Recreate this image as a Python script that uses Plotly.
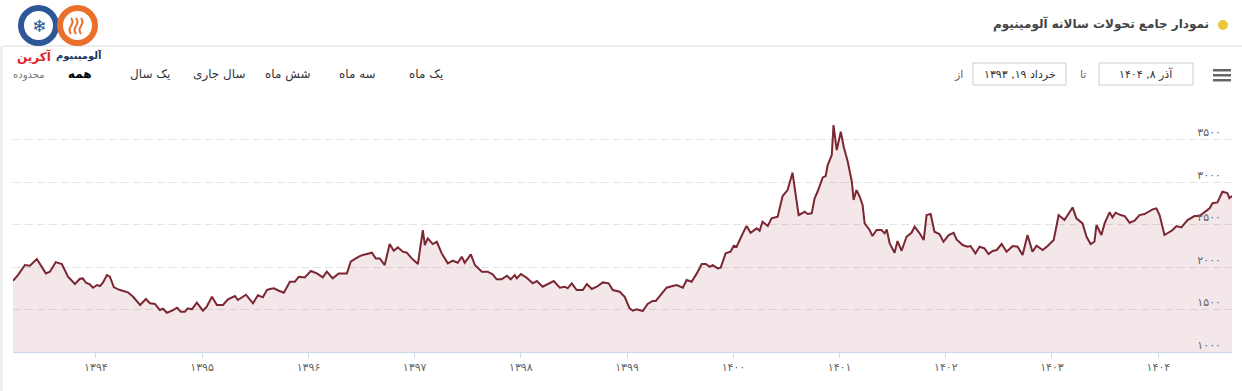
import plotly.graph_objects as go

# ---------------- data ----------------
dates = [
    "2014-06-09", "2014-06-26", "2014-07-20", "2014-08-06", "2014-08-30", "2014-09-09", "2014-09-30",
    "2014-10-14", "2014-11-03", "2014-11-24", "2014-12-15",
    "2015-01-08", "2015-01-25", "2015-02-04", "2015-02-15", "2015-02-28", "2015-03-11", "2015-03-25",
    "2015-04-04", "2015-04-14", "2015-04-28", "2015-05-08", "2015-05-22", "2015-06-12", "2015-07-09",
    "2015-07-27", "2015-08-20", "2015-09-09", "2015-09-23", "2015-10-10", "2015-10-27", "2015-11-07",
    "2015-11-20", "2015-12-08", "2015-12-25",
    "2016-01-07", "2016-01-21", "2016-01-31", "2016-02-14", "2016-03-02", "2016-03-23", "2016-04-05",
    "2016-04-23", "2016-05-10", "2016-05-31", "2016-06-17", "2016-07-11", "2016-07-21", "2016-08-18",
    "2016-09-11", "2016-09-28", "2016-10-15", "2016-10-29", "2016-11-08", "2016-11-22", "2016-12-09",
    "2016-12-26",
    "2017-01-16", "2017-02-02", "2017-02-16", "2017-03-08", "2017-03-29", "2017-04-19", "2017-05-09",
    "2017-05-23", "2017-06-12", "2017-07-03", "2017-07-31", "2017-08-13", "2017-08-31", "2017-09-13",
    "2017-09-24", "2017-10-11", "2017-10-25", "2017-11-07", "2017-11-21", "2017-12-08", "2017-12-25",
    "2018-01-08", "2018-01-22", "2018-02-08", "2018-02-22", "2018-03-11", "2018-04-01", "2018-04-18",
    "2018-04-25", "2018-05-05", "2018-05-22", "2018-06-05", "2018-06-22", "2018-07-13", "2018-07-30",
    "2018-08-16", "2018-08-30", "2018-09-09", "2018-09-30", "2018-10-14", "2018-11-07", "2018-11-27",
    "2018-12-14", "2018-12-28",
    "2019-01-14", "2019-02-01", "2019-02-14", "2019-02-28", "2019-03-07", "2019-03-21", "2019-04-10",
    "2019-05-01", "2019-05-15", "2019-06-04", "2019-06-25", "2019-07-12", "2019-08-02", "2019-08-19",
    "2019-08-29", "2019-09-12", "2019-09-29", "2019-10-20", "2019-11-03", "2019-11-20", "2019-12-07",
    "2019-12-28",
    "2020-01-17", "2020-01-31", "2020-02-24", "2020-03-12", "2020-03-29", "2020-04-09", "2020-04-22",
    "2020-05-13", "2020-05-30", "2020-06-16", "2020-06-27", "2020-07-14", "2020-08-03", "2020-08-24",
    "2020-09-07", "2020-09-28", "2020-10-11", "2020-10-28", "2020-11-15", "2020-12-02", "2020-12-16",
    "2020-12-29",
    "2021-01-09", "2021-01-26", "2021-02-05", "2021-02-22", "2021-03-11", "2021-03-22", "2021-04-01",
    "2021-04-22", "2021-05-05", "2021-05-19", "2021-06-09", "2021-06-19", "2021-06-29", "2021-07-17",
    "2021-07-30", "2021-08-20", "2021-09-06", "2021-09-23", "2021-10-10", "2021-10-31", "2021-11-21",
    "2021-12-01", "2021-12-15", "2021-12-25",
    "2022-01-04", "2022-01-22", "2022-02-01", "2022-02-08", "2022-02-22", "2022-02-28", "2022-03-11",
    "2022-03-25", "2022-04-04", "2022-04-18", "2022-05-02", "2022-05-08", "2022-05-18", "2022-05-29",
    "2022-06-08", "2022-06-15", "2022-07-02", "2022-07-12", "2022-07-26", "2022-08-12", "2022-08-23",
    "2022-08-30", "2022-09-09", "2022-09-26", "2022-10-06", "2022-10-20", "2022-11-06", "2022-11-23",
    "2022-12-04", "2022-12-21",
    "2023-01-04", "2023-01-14", "2023-01-28", "2023-02-10", "2023-02-27", "2023-03-13", "2023-03-31",
    "2023-04-17", "2023-04-27", "2023-05-18", "2023-06-04", "2023-06-14", "2023-07-01", "2023-07-15",
    "2023-08-01", "2023-08-15", "2023-08-29", "2023-09-12", "2023-09-29", "2023-10-16", "2023-11-06",
    "2023-11-23", "2023-12-10", "2023-12-27",
    "2024-01-13", "2024-01-27", "2024-02-17", "2024-03-05", "2024-03-26", "2024-04-12", "2024-05-02",
    "2024-05-30", "2024-06-12", "2024-07-03", "2024-07-17", "2024-07-31", "2024-08-13", "2024-08-20",
    "2024-09-06", "2024-09-17", "2024-10-04", "2024-10-14", "2024-10-25", "2024-11-11", "2024-11-25",
    "2024-12-12", "2024-12-29",
    "2025-01-15", "2025-02-01", "2025-02-15", "2025-03-01", "2025-03-14", "2025-03-25", "2025-04-11",
    "2025-04-28", "2025-05-09", "2025-05-22", "2025-06-08", "2025-06-29", "2025-07-23", "2025-08-09",
    "2025-08-26", "2025-09-13", "2025-09-23", "2025-10-10", "2025-10-27", "2025-11-13", "2025-11-20",
    "2025-11-29",
]

prices = [
    1838, 1905, 2023, 2015, 2094, 2043, 1925,
    1945, 2058, 2035, 1886,
    1800, 1862, 1866, 1815, 1796, 1756, 1788,
    1776, 1815, 1905, 1886, 1761, 1729, 1702,
    1650, 1553, 1623, 1573, 1565, 1494, 1509,
    1462, 1486, 1521,
    1474, 1474, 1513, 1502, 1580, 1486, 1533,
    1650, 1553, 1553, 1620, 1659, 1612, 1674,
    1573, 1667, 1643, 1729, 1741, 1749, 1721,
    1698,
    1827, 1827, 1886, 1878, 1953, 1925, 1878,
    1945, 1866, 1925, 1925, 2062, 2101, 2129,
    2141, 2152, 2168, 2101, 2101, 2023, 2270,
    2191, 2231, 2180, 2168, 2101, 2035, 2435,
    2258, 2337, 2270, 2297, 2160, 2043, 2074,
    2050, 2121, 2050, 2149, 2023, 1945, 1945,
    1914, 1855,
    1855, 1898, 1855, 1905, 1866, 1917, 1874,
    1808, 1835, 1768, 1808, 1835, 1756, 1768,
    1749, 1808, 1729, 1729, 1800, 1741, 1768,
    1819,
    1808, 1729, 1709, 1650, 1513, 1486, 1502,
    1482, 1565, 1600, 1600, 1670, 1756, 1776,
    1788, 1756, 1847, 1827, 1925, 2035, 2035,
    2003,
    2023, 1984, 1992, 2160, 2180, 2250, 2239,
    2396, 2482, 2403, 2455, 2427, 2532, 2482,
    2572, 2591, 2835, 2905, 3109, 2611, 2650,
    2623, 2631, 2807,
    2885, 3054, 3070, 3199, 3317, 3670, 3376,
    3591, 3415, 3238, 3003, 2788, 2905, 2827,
    2729, 2513, 2435, 2364, 2435, 2435, 2396,
    2443, 2278, 2168, 2305, 2191, 2356, 2403,
    2474, 2396,
    2317, 2611, 2623, 2415, 2388, 2297, 2376,
    2403, 2325, 2258, 2239, 2247, 2160, 2239,
    2219, 2152, 2188, 2200, 2270, 2180, 2247,
    2239, 2141, 2376,
    2180, 2250, 2200, 2247, 2317, 2611, 2552,
    2701, 2572, 2513, 2356, 2270, 2297, 2494,
    2376, 2513, 2643, 2584, 2639, 2611, 2599,
    2521, 2544,
    2611, 2623, 2650, 2678, 2690, 2611, 2376,
    2415, 2435, 2482, 2466, 2552, 2599, 2599,
    2640, 2690, 2750, 2760, 2885, 2870, 2810,
    2835,
]

year_ticks = ["2015-03-21", "2016-03-20", "2017-03-21", "2018-03-21", "2019-03-21", "2020-03-20",
              "2021-03-21", "2022-03-21", "2023-03-21", "2024-03-20", "2025-03-21"]
year_labels = ["۱۳۹۴", "۱۳۹۵", "۱۳۹۶", "۱۳۹۷", "۱۳۹۸", "۱۳۹۹", "۱۴۰۰", "۱۴۰۱", "۱۴۰۲", "۱۴۰۳", "۱۴۰۴"]

y_ticks = [1000, 1500, 2000, 2500, 3000, 3500, 4000]
y_labels = ["۱۰۰۰", "۱۵۰۰", "۲۰۰۰", "۲۵۰۰", "۳۰۰۰", "۳۵۰۰", ""]

title_text = "نمودار جامع تحولات سالانه آلومینیوم"
range_label = "محدوده"
range_buttons = ["همه", "یک سال", "سال جاری", "شش ماه", "سه ماه", "یک ماه"]
from_label, to_label = "از", "تا"
from_date, to_date = "خرداد ۱۹, ۱۳۹۳", "آذر ۸, ۱۴۰۴"
brand_a, brand_b = "آلومینیوم", "آکرین"

# ---------------- layout helpers (pixel -> paper) ----------------
W, H = 1242, 391
PL, PR, PT, PB = 13, 1232, 97, 352


def px(x):
    return (x - PL) / (PR - PL)


def py(y):
    return (PB - y) / (PB - PT)


FONT = "DejaVu Sans"
LINE = "#7b2732"

fig = go.Figure()
fig.add_trace(go.Scatter(
    x=dates, y=prices, mode="lines",
    line=dict(color=LINE, width=2),
    fill="tozeroy", fillcolor="rgba(150,40,55,0.11)",
    hoverinfo="x+y", showlegend=False,
))

shapes = []
annotations = []

# card border / separator
shapes.append(dict(type="rect", xref="paper", yref="paper", x0=px(0), x1=px(3), y0=py(391), y1=py(46),
                   fillcolor="#eeeeee", line=dict(width=0), layer="below"))
shapes.append(dict(type="line", xref="paper", yref="paper", x0=px(3), x1=px(1242), y0=py(46), y1=py(46),
                   line=dict(color="#e6e6e6", width=1.5)))

# title + yellow dot
shapes.append(dict(type="circle", xref="paper", yref="paper", x0=px(1218), x1=px(1228), y0=py(30), y1=py(20),
                   fillcolor="#efc53a", line=dict(width=0)))
annotations.append(dict(text="<b>" + title_text + "</b>", xref="paper", yref="paper", x=px(1211), y=py(24),
                        xanchor="right", yanchor="middle", showarrow=False,
                        font=dict(family=FONT, size=12, color="#444444")))

# logo (approximation)
shapes.append(dict(type="circle", xref="paper", yref="paper", x0=px(21), x1=px(56), y0=py(43), y1=py(8),
                   line=dict(color="#2d5796", width=6)))
shapes.append(dict(type="circle", xref="paper", yref="paper", x0=px(60), x1=px(95), y0=py(43), y1=py(8),
                   line=dict(color="#e8702a", width=6)))
annotations.append(dict(text="❄", xref="paper", yref="paper", x=px(38.5), y=py(26), xanchor="center",
                        yanchor="middle", showarrow=False, font=dict(family=FONT, size=17, color="#2d5796")))
for i in range(3):
    x0 = 71 + 5 * i
    path = "M {a},{b} Q {c},{d} {e},{f} Q {g},{h} {k},{m}".format(
        a=px(x0), b=py(34), c=px(x0 - 3), d=py(30), e=px(x0), f=py(26),
        g=px(x0 + 3), h=py(22), k=px(x0), m=py(18))
    shapes.append(dict(type="path", xref="paper", yref="paper", path=path,
                       line=dict(color="#e8702a", width=2)))
annotations.append(dict(text="<b>" + brand_a + "</b>", xref="paper", yref="paper", x=px(54), y=py(56),
                        xanchor="left", yanchor="middle", showarrow=False,
                        font=dict(family=FONT, size=10, color="#1e3766")))
annotations.append(dict(text="<b>" + brand_b + "</b>", xref="paper", yref="paper", x=px(54), y=py(57),
                        xanchor="right", yanchor="middle", showarrow=False,
                        font=dict(family=FONT, size=12, color="#e0242a")))

# range selector
annotations.append(dict(text=range_label, xref="paper", yref="paper", x=px(29), y=py(75), xanchor="center",
                        yanchor="middle", showarrow=False, font=dict(family=FONT, size=10, color="#777777")))
btn_x = [80, 150, 219, 288, 357, 426]
for i, (label, bx) in enumerate(zip(range_buttons, btn_x)):
    txt = "<b>" + label + "</b>" if i == 0 else label
    annotations.append(dict(text=txt, xref="paper", yref="paper", x=px(bx), y=py(74), xanchor="center",
                            yanchor="middle", showarrow=False,
                            font=dict(family=FONT, size=12, color="#000000" if i == 0 else "#333333")))

# date inputs
for (x0, x1) in [(973, 1066), (1099, 1193)]:
    shapes.append(dict(type="rect", xref="paper", yref="paper", x0=px(x0), x1=px(x1), y0=py(85), y1=py(63),
                       line=dict(color="#cccccc", width=1), fillcolor="white"))
annotations.append(dict(text=from_date, xref="paper", yref="paper", x=px(1019.5), y=py(74), xanchor="center",
                        yanchor="middle", showarrow=False, font=dict(family=FONT, size=11, color="#333333")))
annotations.append(dict(text=to_date, xref="paper", yref="paper", x=px(1146), y=py(74), xanchor="center",
                        yanchor="middle", showarrow=False, font=dict(family=FONT, size=11, color="#333333")))
annotations.append(dict(text=from_label, xref="paper", yref="paper", x=px(958), y=py(74), xanchor="center",
                        yanchor="middle", showarrow=False, font=dict(family=FONT, size=11, color="#666666")))
annotations.append(dict(text=to_label, xref="paper", yref="paper", x=px(1083), y=py(74), xanchor="center",
                        yanchor="middle", showarrow=False, font=dict(family=FONT, size=11, color="#666666")))

# hamburger menu
for yy in [69, 74, 79]:
    shapes.append(dict(type="rect", xref="paper", yref="paper", x0=px(1213), x1=px(1231), y0=py(yy + 2.5),
                       y1=py(yy), fillcolor="#666666", line=dict(width=0)))

fig.update_layout(
    width=W, height=H, autosize=False,
    margin=dict(l=PL, r=W - PR, t=PT, b=H - PB, pad=0),
    paper_bgcolor="white", plot_bgcolor="white",
    font=dict(family=FONT),
    shapes=shapes, annotations=annotations,
    showlegend=False,
    xaxis=dict(
        type="date", range=[dates[0], dates[-1]],
        tickmode="array", tickvals=year_ticks, ticktext=year_labels,
        ticks="outside", ticklen=5, tickcolor="#ccd6eb", tickwidth=1,
        showline=True, linecolor="#ccd6eb", linewidth=1,
        showgrid=False, zeroline=False,
        tickfont=dict(family=FONT, size=11, color="#666666"),
    ),
    yaxis=dict(
        side="right", range=[1000, 4000],
        tickmode="array", tickvals=y_ticks, ticktext=y_labels,
        ticklabelposition="inside", ticklabeloverflow="allow",
        ticklabelshift=-7, ticklabelstandoff=8,
        ticks="", showgrid=True, gridcolor="#e4e4e4", griddash="8px,4px", gridwidth=1,
        zeroline=False, showline=False,
        tickfont=dict(family=FONT, size=11, color="#666666"),
    ),
)

fig.write_html("out.html", config={"displayModeBar": False},
               post_script="document.body.style.margin='0px';document.body.style.overflow='hidden';")
